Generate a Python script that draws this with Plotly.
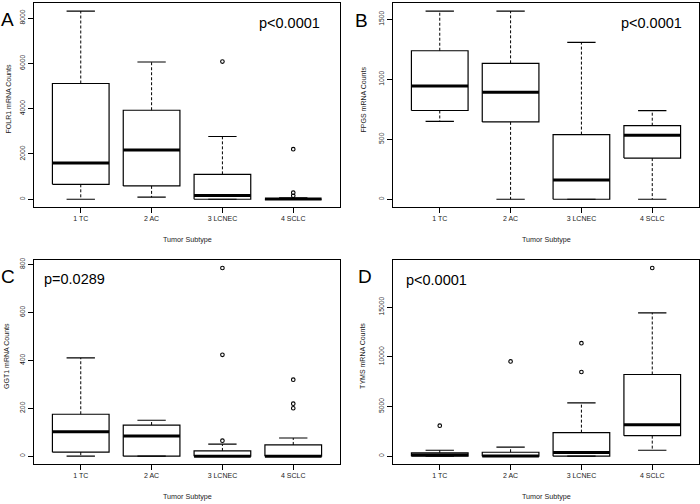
import plotly.graph_objects as go
from plotly.subplots import make_subplots

categories = ["1 TC", "2 AC", "3 LCNEC", "4 SCLC"]
positions = [1, 2, 3, 4]

# FOLR1 (panel A)
folr1_low = [0, 90, 0, 0]
folr1_q1 = [660, 590, 0, 0]
folr1_med = [1600, 2170, 170, 10]
folr1_q3 = [5110, 3930, 1100, 30]
folr1_high = [8310, 6060, 2770, 60]
folr1_out = [[], [], [6080], [2210, 290, 150]]
folr1_ticks = [0, 2000, 4000, 6000, 8000]

# FPGS (panel B)
fpgs_low = [650, 0, 0, 0]
fpgs_q1 = [740, 645, 0, 343]
fpgs_med = [945, 892, 160, 533]
fpgs_q3 = [1238, 1133, 539, 613]
fpgs_high = [1569, 1569, 1307, 738]
fpgs_out = [[], [], [], []]
fpgs_ticks = [0, 500, 1000, 1500]

# GGT1 (panel C)
ggt1_low = [0, 0, 0, 0]
ggt1_q1 = [17, 0, 0, 0]
ggt1_med = [102, 84, 0, 0]
ggt1_q3 = [175, 130, 22, 47]
ggt1_high = [410, 150, 50, 76]
ggt1_out = [[], [], [65, 423, 785], [200, 219, 319]]
ggt1_ticks = [0, 200, 400, 600, 800]

# TYMS (panel D)
tyms_low = [0, 0, 0, 600]
tyms_q1 = [0, 0, 0, 2070]
tyms_med = [150, 30, 370, 3170]
tyms_q3 = [350, 400, 2370, 8220]
tyms_high = [600, 906, 5370, 14420]
tyms_out = [[3070], [9530], [8470, 11370], [18930]]
tyms_ticks = [0, 5000, 10000, 15000]

FONT = "Liberation Sans, Arial, sans-serif"
W, H = 700, 504

panels = [
    dict(row=1, col=1, letter="A", p="p<0.0001", ytitle="FOLR1 mRNA Counts",
         low=folr1_low, q1=folr1_q1, med=folr1_med, q3=folr1_q3, high=folr1_high,
         out=folr1_out, ticks=folr1_ticks,
         letter_xy=(7, 17), p_xy=(289, 20), ytitle_x=8, xtitle_y=238, yt_y=97),
    dict(row=1, col=2, letter="B", p="p<0.0001", ytitle="FPGS mRNA Counts",
         low=fpgs_low, q1=fpgs_q1, med=fpgs_med, q3=fpgs_q3, high=fpgs_high,
         out=fpgs_out, ticks=fpgs_ticks,
         letter_xy=(361, 18), p_xy=(651, 20), ytitle_x=363, xtitle_y=238, yt_y=97),
    dict(row=2, col=1, letter="C", p="p=0.0289", ytitle="GGT1 mRNA Counts",
         low=ggt1_low, q1=ggt1_q1, med=ggt1_med, q3=ggt1_q3, high=ggt1_high,
         out=ggt1_out, ticks=ggt1_ticks,
         letter_xy=(8, 275), p_xy=(74, 278), ytitle_x=7, xtitle_y=496, yt_y=355),
    dict(row=2, col=2, letter="D", p="p<0.0001", ytitle="TYMS mRNA Counts",
         low=tyms_low, q1=tyms_q1, med=tyms_med, q3=tyms_q3, high=tyms_high,
         out=tyms_out, ticks=tyms_ticks,
         letter_xy=(365, 275), p_xy=(436, 279), ytitle_x=363, xtitle_y=496, yt_y=355),
]

fig = make_subplots(rows=2, cols=2)

x_domains = {1: [34 / W, 340 / W], 2: [393 / W, 699 / W]}
y_domains = {1: [1 - 205 / H, 1 - 0.5 / H], 2: [1 - 463.5 / H, 1 - 259 / H]}

for pn in panels:
    r, c = pn["row"], pn["col"]
    bx, by, mx, my, wx, wy, sx, sy, ox, oy = [], [], [], [], [], [], [], [], [], []
    for p, lo, a, m, b, hi, outs in zip(positions, pn["low"], pn["q1"], pn["med"],
                                        pn["q3"], pn["high"], pn["out"]):
        bx += [p - 0.4, p + 0.4, p + 0.4, p - 0.4, p - 0.4, None]
        by += [a, a, b, b, a, None]
        mx += [p - 0.4, p + 0.4, None]
        my += [m, m, None]
        wx += [p, p, None, p, p, None]
        wy += [b, hi, None, a, lo, None]
        sx += [p - 0.2, p + 0.2, None, p - 0.2, p + 0.2, None]
        sy += [hi, hi, None, lo, lo, None]
        ox += [p] * len(outs)
        oy += outs

    line = dict(color="black", width=1.2)
    fig.add_trace(go.Scatter(x=wx, y=wy, mode="lines",
                             line=dict(color="black", width=1, dash="3px,2px")), row=r, col=c)
    fig.add_trace(go.Scatter(x=sx, y=sy, mode="lines", line=line), row=r, col=c)
    fig.add_trace(go.Scatter(x=bx, y=by, mode="lines", line=line), row=r, col=c)
    fig.add_trace(go.Scatter(x=mx, y=my, mode="lines",
                             line=dict(color="black", width=3)), row=r, col=c)
    fig.add_trace(go.Scatter(x=ox, y=oy, mode="markers",
                             marker=dict(symbol="circle-open", size=3.6, color="black",
                                         line=dict(width=1.1))), row=r, col=c)

    # R-style axis range: data extent plus 4% each side
    allv = pn["low"] + pn["high"] + [v for o in pn["out"] for v in o]
    lo, hi = min(allv), max(allv)
    span = hi - lo
    fig.update_yaxes(range=[lo - 0.04 * span, hi + 0.04 * span],
                     tickvals=pn["ticks"], ticktext=[str(t) for t in pn["ticks"]],
                     tickangle=-90, domain=y_domains[r], row=r, col=c)
    fig.update_xaxes(range=[0.34, 4.66], tickvals=positions, ticktext=categories,
                     tickangle=0, domain=x_domains[c], row=r, col=c)

    x0, x1 = x_domains[c]
    fig.add_annotation(x=pn["letter_xy"][0] / W, y=1 - pn["letter_xy"][1] / H,
                       text=pn["letter"], font=dict(size=19, color="black"))
    fig.add_annotation(x=pn["p_xy"][0] / W, y=1 - pn["p_xy"][1] / H,
                       text=pn["p"], font=dict(size=14.5, color="black"))
    fig.add_annotation(x=pn["ytitle_x"] / W, y=1 - pn["yt_y"] / H, text=pn["ytitle"],
                       textangle=-90, font=dict(size=7, color="#222"))
    fig.add_annotation(x=(x0 + x1) / 2, y=1 - pn["xtitle_y"] / H, text="Tumor Subtype",
                       font=dict(size=7.2, color="#222"))

fig.update_annotations(xref="paper", yref="paper", showarrow=False,
                       xanchor="center", yanchor="middle")

fig.update_xaxes(showline=True, mirror=True, linecolor="black", linewidth=1.2,
                 ticks="outside", ticklen=5, tickcolor="black", tickwidth=1,
                 showgrid=False, zeroline=False,
                 tickfont=dict(size=7, color="#222"))
fig.update_yaxes(showline=True, mirror=True, linecolor="black", linewidth=1.2,
                 ticks="outside", ticklen=5, tickcolor="black", tickwidth=1,
                 showgrid=False, zeroline=False,
                 tickfont=dict(size=6.8, color="#222"))

fig.update_layout(
    width=W, height=H,
    margin=dict(l=0, r=0, t=0, b=0),
    paper_bgcolor="white", plot_bgcolor="white",
    showlegend=False,
    hovermode=False,
    font=dict(family=FONT, color="black"),
)

# drop the browser's default body margin so the 700x504 figure sits at the page origin
fig.write_html("out.html", config={"displayModeBar": False},
               post_script="document.body.style.margin='0';document.body.style.overflow='hidden';")
